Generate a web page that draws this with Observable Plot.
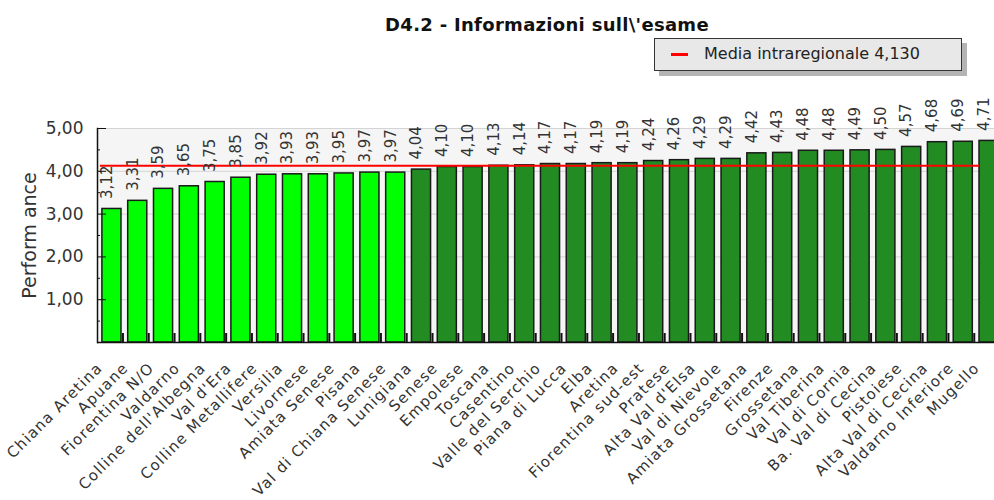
<!DOCTYPE html>
<html>
<head>
<meta charset="utf-8">
<script src="https://cdn.jsdelivr.net/npm/d3@7"></script>
<script src="https://cdn.jsdelivr.net/npm/@observablehq/plot@0.6"></script>
<style>
  html, body { margin: 0; padding: 0; background: #fff; overflow: hidden; }
  #wrap { position: relative; width: 994px; height: 500px; overflow: hidden; font-family: "DejaVu Sans", Verdana, sans-serif; }
  #head { position: relative; width: 994px; height: 80px; }
  #title { position: absolute; top: 14px; left: 547px; transform: translateX(-50%); white-space: nowrap; font-weight: bold; font-size: 18px; line-height: 21px; letter-spacing: 0.3px; color: #111; }
  #legend { position: absolute; left: 654px; top: 38px; width: 306px; height: 31px; background: #e8e8e8; border: 1.5px solid #333; box-shadow: 5px 5px 0 #b4b4b4; }
  #legend .sw { position: absolute; left: 16px; top: 14px; width: 17px; height: 3px; background: #ff0000; }
  #legend .lt { position: absolute; left: 49px; top: 5px; font-size: 16px; color: #222; white-space: nowrap; }
  #chart svg { display: block; overflow: hidden; max-width: none !important; }
  g[aria-label="valori"] text { letter-spacing: 3px; }
  g[aria-label="x-axis tick label"] text { letter-spacing: 1.2px; }
</style>
</head>
<body>
<div id="wrap">
  <div id="head">
    <div id="title"></div>
    <div id="legend"><div class="sw"></div><div class="lt"></div></div>
  </div>
  <div id="chart"></div>
</div>
<script>
const titolo = "D4.2 - Informazioni sull\\'esame";
const categorie = ["Chiana Aretina", "Apuane", "Fiorentina N/O", "Valdarno", "Colline dell'Albegna", "Val d'Era", "Colline Metallifere", "Versilia", "Livornese", "Amiata Senese", "Pisana", "Val di Chiana Senese", "Lunigiana", "Senese", "Empolese", "Toscana", "Casentino", "Valle del Serchio", "Piana di Lucca", "Elba", "Aretina", "Fiorentina sud-est", "Pratese", "Alta Val d'Elsa", "Val di Nievole", "Amiata Grossetana", "Firenze", "Grossetana", "Val Tiberina", "Val di Cornia", "Ba. Val di Cecina", "Pistoiese", "Alta Val di Cecina", "Valdarno Inferiore", "Mugello"];
const valori = [3.12, 3.31, 3.59, 3.65, 3.75, 3.85, 3.92, 3.93, 3.93, 3.95, 3.97, 3.97, 4.04, 4.10, 4.10, 4.13, 4.14, 4.17, 4.17, 4.19, 4.19, 4.24, 4.26, 4.29, 4.29, 4.42, 4.43, 4.48, 4.48, 4.49, 4.50, 4.57, 4.68, 4.69, 4.71];
const fasce = ["bassa","bassa","bassa","bassa","bassa","bassa","bassa","bassa","bassa","bassa","bassa","bassa","alta","alta","alta","alta","alta","alta","alta","alta","alta","alta","alta","alta","alta","alta","alta","alta","alta","alta","alta","alta","alta","alta","alta"];
const coloriFasce = ["#00ff00", "#228b22"];
const media = 4.130;
const legendaTesto = "Media intraregionale 4,130";
const yTicks = [1, 2, 3, 4, 5];
const yMajor = [0, 1, 2, 3, 4, 5];
const yMinor = [0.5, 1.5, 2.5, 3.5, 4.5];
const yLabel = "Perform ance";

document.getElementById("title").textContent = titolo;
document.querySelector("#legend .lt").textContent = legendaTesto;

const dati = categorie.map((c, i) => ({categoria: c, valore: valori[i], fascia: fasce[i]}));
const fmt = d => d.toFixed(2).replace(".", ",");
const vuoto = () => "";

const chart = Plot.plot({
  width: 1010,
  height: 420,
  marginLeft: 97,
  marginRight: 7,
  marginTop: 48,
  marginBottom: 158,
  style: {fontFamily: "DejaVu Sans, Verdana, sans-serif", background: "transparent", maxWidth: "none"},
  x: {domain: categorie, paddingInner: 0.26, paddingOuter: 0.19, round: false, label: null},
  y: {domain: [0, 5], label: null},
  color: {domain: ["bassa", "alta"], range: coloriFasce},
  marks: [
    Plot.frame({fill: "#f5f5f5"}),
    Plot.gridY(yTicks, {stroke: "#d4d4d4", strokeOpacity: 1, strokeWidth: 1}),
    Plot.barY(dati, {x: "categoria", y: "valore", fill: "fascia", stroke: "#1a1a1a", strokeWidth: 1.5}),
    Plot.ruleY([{y: media, x1: categorie[0], x2: categorie[categorie.length - 2]}], {y: "y", x1: "x1", x2: "x2", stroke: "#ff0000", strokeWidth: 2, insetLeft: -2, insetRight: -7}),
    Plot.text(dati, {x: "categoria", y: "valore", text: d => fmt(d.valore), rotate: -90, textAnchor: "start", dy: -10, dx: -5, fontSize: 15, fill: "#333", ariaLabel: "valori"}),
    Plot.axisX({tickSize: -9, tickFormat: vuoto, fill: "none", dx: 11, strokeWidth: 2, stroke: "#111"}),
    Plot.axisX({tickSize: 0, tickPadding: 23, tickRotate: -45, dx: -12, fontSize: 15, fill: "#333"}),
    Plot.axisY({ticks: yTicks, tickSize: 0, tickPadding: 14, tickFormat: fmt, fontSize: 17, fill: "#333"}),
    Plot.axisY({ticks: yMajor, tickSize: -9, tickFormat: vuoto, fill: "none", stroke: "#111"}),
    Plot.axisY({ticks: yMinor, tickSize: -3, tickFormat: vuoto, fill: "none", stroke: "#111"}),
    Plot.text([yLabel], {frameAnchor: "left", textAnchor: "middle", rotate: -90, dx: -68, fontSize: 19, fill: "#333"}),
    Plot.ruleY([0], {stroke: "#111", strokeWidth: 1.5}),
    Plot.frame({anchor: "left", stroke: "#111", strokeWidth: 1.5})
  ]
});
document.getElementById("chart").appendChild(chart);
</script>
</body>
</html>
